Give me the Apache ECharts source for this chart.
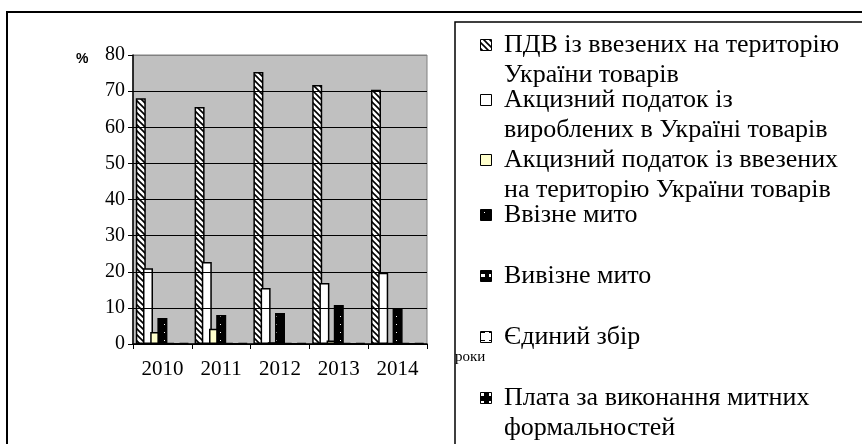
<!DOCTYPE html>
<html>
<head>
<meta charset="utf-8">
<script src="https://cdn.jsdelivr.net/npm/echarts@6/dist/echarts.min.js"></script>
<style>
  html, body { margin: 0; padding: 0; background: #fff; }
  #chart { width: 862px; height: 444px; }
</style>
</head>
<body>
<div id="chart"></div>
<script>
var years = ['2010', '2011', '2012', '2013', '2014'];
var seriesNames = [
    'ПДВ із ввезених на територію України товарів',
    'Акцизний податок із вироблених в Україні товарів',
    'Акцизний податок із ввезених на територію України товарів',
    'Ввізне мито',
    'Вивізне мито',
    'Єдиний збір',
    'Плата за виконання митних формальностей'
];
// legend lines as they wrap in the picture
var legendLines = [
    ['ПДВ із ввезених на територію', 'України товарів'],
    ['Акцизний податок із', 'вироблених в Україні товарів'],
    ['Акцизний податок із ввезених', 'на територію України товарів'],
    ['Ввізне мито'],
    ['Вивізне мито'],
    ['Єдиний збір'],
    ['Плата за виконання митних', 'формальностей']
];
var vatImport = [68.0, 65.6, 75.3, 71.7, 70.4];
var exciseDomestic = [21.0, 22.7, 15.5, 16.9, 19.7];
var exciseImport = [3.3, 4.2, 0.5, 1.0, 0.3];
var importDuty = [7.2, 8.0, 8.6, 10.8, 10.0];
var exportDuty = [0.3, 0.3, 0.3, 0.3, 0.3];
var singleFee = [0.2, 0.2, 0.2, 0.2, 0.2];
var customsFee = [0.3, 0.3, 0.3, 0.3, 0.3];
var yTicks = [0, 10, 20, 30, 40, 50, 60, 70, 80];

var serif = '"Liberation Serif", "DejaVu Serif", serif';

function makePattern(size, draw) {
    var c = document.createElement('canvas');
    c.width = size;
    c.height = size;
    var ctx = c.getContext('2d');
    draw(ctx, size);
    return c;
}

var hatch = makePattern(6, function (ctx, s) {
    ctx.fillStyle = '#fff';
    ctx.fillRect(0, 0, s, s);
    ctx.strokeStyle = '#000';
    ctx.lineWidth = 1.6;
    ctx.beginPath();
    ctx.moveTo(-1, -1); ctx.lineTo(s + 1, s + 1);
    ctx.moveTo(-1, s - 1); ctx.lineTo(1, s + 1);
    ctx.moveTo(s - 1, -1); ctx.lineTo(s + 1, 1);
    ctx.stroke();
});
var dots = makePattern(8, function (ctx, s) {
    ctx.fillStyle = '#000';
    ctx.fillRect(0, 0, s, s);
    ctx.fillStyle = '#fff';
    ctx.fillRect(4, 4, 1, 1);
});
var blocks = makePattern(8, function (ctx, s) {
    ctx.fillStyle = '#000';
    ctx.fillRect(0, 0, s, s);
    ctx.fillStyle = '#fff';
    ctx.fillRect(1, 2, 4, 3);
});
var lines = makePattern(8, function (ctx, s) {
    ctx.fillStyle = '#fff';
    ctx.fillRect(0, 0, s, s);
    ctx.fillStyle = '#000';
    ctx.fillRect(1, 4, 4, 1);
});
var blocks2 = makePattern(8, function (ctx, s) {
    ctx.fillStyle = '#000';
    ctx.fillRect(0, 0, s, s);
    ctx.fillStyle = '#fff';
    ctx.fillRect(1, 1, 3, 3);
});

var fills = [
    { image: hatch, repeat: 'repeat' },
    '#ffffff',
    '#ffffcc',
    { image: dots, repeat: 'repeat' },
    { image: blocks, repeat: 'repeat' },
    { image: lines, repeat: 'repeat' },
    { image: blocks2, repeat: 'repeat' }
];
var values = [vatImport, exciseDomestic, exciseImport, importDuty, exportDuty, singleFee, customsFee];

var series = [];
for (var i = 0; i < seriesNames.length; i++) {
    series.push({
        name: seriesNames[i],
        type: 'bar',
        data: values[i],
        barWidth: 10,
        barGap: '-28%',
        itemStyle: {
            color: fills[i],
            borderColor: '#000',
            borderWidth: 1.5
        },
        silent: true
    });
}

// legend drawn by hand so that the icon sits on the first line
var graphics = [
    { type: 'rect', shape: { x: 7, y: 12, width: 870, height: 450 }, style: { fill: 'none', stroke: '#000', lineWidth: 2 }, z: 0 },
    { type: 'rect', shape: { x: 455, y: 22, width: 420, height: 440 }, style: { fill: '#fff', stroke: '#000', lineWidth: 1.5 }, z: 1 },
    { type: 'text', left: 76, top: 52, style: { text: '%', font: 'bold 14px "Liberation Sans", Arial, sans-serif', fill: '#000' }, z: 5 },
    { type: 'text', left: 455, top: 350, style: { text: 'роки', font: '15px ' + serif, fill: '#000' }, z: 5 }
];
var itemY = [45, 100, 160, 215, 276, 337, 398];
for (var k = 0; k < legendLines.length; k++) {
    graphics.push({
        type: 'rect',
        shape: { x: 480.5, y: itemY[k] - 5.5, width: 11, height: 11 },
        style: { fill: fills[k], stroke: '#000', lineWidth: 1 },
        z: 5
    });
    for (var j = 0; j < legendLines[k].length; j++) {
        graphics.push({
            type: 'text',
            x: 504,
            y: itemY[k] + j * 30,
            style: { text: legendLines[k][j], font: '26px ' + serif, fill: '#000', textVerticalAlign: 'middle' },
            z: 5
        });
    }
}

var chart = echarts.init(document.getElementById('chart'));
var option = {
    animation: false,
    backgroundColor: '#fff',
    textStyle: { fontFamily: serif },
    grid: {
        left: 133,
        right: 435,
        top: 55,
        bottom: 100,
        show: true,
        backgroundColor: '#c0c0c0',
        borderColor: '#808080',
        borderWidth: 1,
        z: 2
    },
    xAxis: {
        type: 'category',
        data: years,
        z: 4,
        axisLine: { lineStyle: { color: '#000', width: 1.5 } },
        axisTick: { show: true, length: 5, lineStyle: { color: '#000' } },
        axisLabel: { color: '#000', fontSize: 21, fontFamily: serif, margin: 15 }
    },
    yAxis: {
        type: 'value',
        min: yTicks[0],
        max: yTicks[yTicks.length - 1],
        interval: 10,
        z: 4,
        axisLine: { show: true, lineStyle: { color: '#000', width: 1.5 } },
        axisTick: { show: true, length: 5, lineStyle: { color: '#000' } },
        axisLabel: { color: '#000', fontSize: 20, fontFamily: serif, margin: 8 },
        splitLine: {
            show: true,
            lineStyle: { color: ['#000', '#000', '#000', '#000', '#000', '#000', '#000', '#000', '#808080'], width: 1 }
        }
    },
    graphic: graphics,
    series: series
};
chart.setOption(option);
</script>
</body>
</html>
